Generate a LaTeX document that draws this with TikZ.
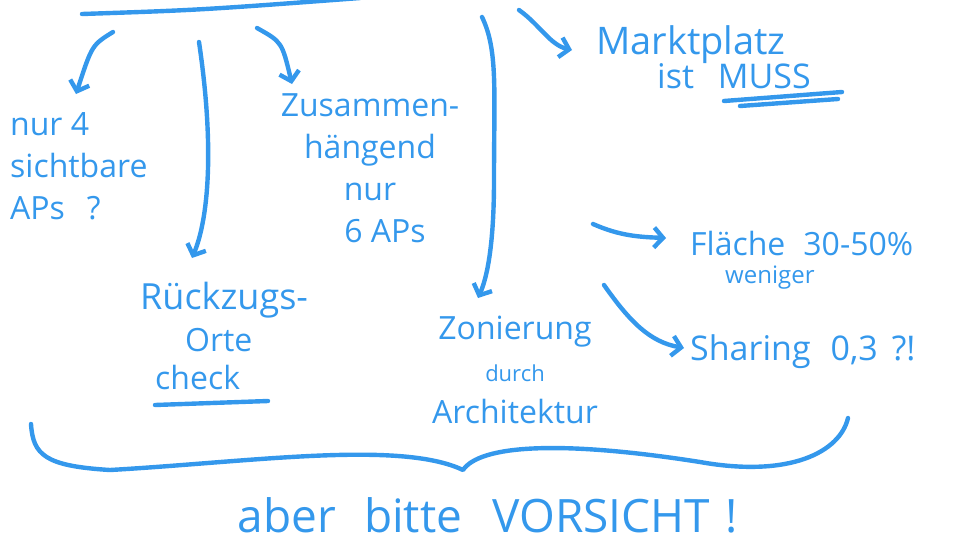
\documentclass[tikz,border=0pt]{standalone}
\usepackage{fontspec}
\setmainfont{Open Sans}
\usetikzlibrary{arrows.meta}
\definecolor{pen}{RGB}{52,152,236}
\begin{document}
\begin{tikzpicture}[x=1pt,y=-1pt,
  stroke/.style={draw=pen,line width=4.4pt,line cap=round,line join=round},
  arr/.style={stroke,-{Straight Barb[length=9pt,width=20pt,line width=4.4pt]}},
  txt/.style={text=pen,inner sep=0pt,font=\fontsize{32}{42}\selectfont}]
\useasboundingbox (0,0) rectangle (978,550);
% top bar
\coordinate (barL) at (82,14);
\coordinate (barR) at (360,-2);
\draw[stroke] (barL) .. controls (200,10) .. (barR);
% text nodes
\node[txt,align=left,anchor=north west] (sicht) at (10,112) {nur 4\\sichtbare\\APs\hspace{22pt}?};
\node[txt,align=center] (zus) at (370,168) {\fontsize{32}{36}\selectfont Zusammen-\\hängend\\nur\\\hspace*{30pt}6 APs};
\node[txt,align=left,anchor=north west] (rueck) at (140,282) {\fontsize{36}{40}\selectfont Rückzugs-\\\hspace*{45pt}Orte\\[-4pt]\hspace*{15pt}check};
\node[txt,align=center] (zon) at (515,370) {Zonierung\\{\fontsize{22}{26}\selectfont durch}\\Architektur};
\node[txt,anchor=base west] (markt) at (596,54) {\fontsize{38}{40}\selectfont Marktplatz};
\node[txt,anchor=base west] (muss) at (657,88) {\fontsize{34}{40}\selectfont ist\hspace{24pt}MUSS};
\node[txt,anchor=base west] (flaeche) at (690,255) {Fläche\hspace{18pt}30-50\%};
\node[txt,anchor=base west] (weniger) at (725,283) {\fontsize{24}{28}\selectfont weniger};
\node[txt,anchor=base west] (sharing) at (690,360) {\fontsize{34}{40}\selectfont Sharing\hspace{20pt}0,3\hspace{14pt}?!};
\node[txt,anchor=base] (vorsicht) at (488,532) {\fontsize{46}{50}\selectfont aber\hspace{28pt}bitte\hspace{30pt}VORSICHT\hspace{16pt}!};
% underlines
\coordinate (chkL) at (155,405); \coordinate (chkR) at (268,401);
\draw[stroke] (chkL) -- (chkR);
\coordinate (m1L) at (724,101); \coordinate (m1R) at (842,92);
\coordinate (m2L) at (740,106); \coordinate (m2R) at (838,99);
\draw[stroke] (m1L) -- (m1R);
\draw[stroke] (m2L) -- (m2R);
% arrows
\coordinate (s1) at (113,32); \coordinate (e1) at (76,94);
\draw[arr] (s1) .. controls (92,45) .. (e1);
\coordinate (s2) at (199,42); \coordinate (e2) at (192,258);
\draw[arr] (s2) .. controls (215,150) and (208,220) .. (e2);
\coordinate (s3) at (257,28); \coordinate (e3) at (292,84);
\draw[arr] (s3) .. controls (282,42) .. (e3);
\coordinate (s4) at (482,17); \coordinate (e4) at (478,298);
\draw[arr] (s4) .. controls (498,50) and (494,90) .. (494,180) .. controls (494,250) and (486,280) .. (e4);
\coordinate (s5) at (519,10); \coordinate (e5) at (572,50);
\draw[arr] (s5) .. controls (540,25) and (550,45) .. (e5);
\coordinate (s6) at (593,224); \coordinate (e6) at (666,238);
\draw[arr] (s6) .. controls (620,236) and (640,237) .. (e6);
\coordinate (s7) at (604,285); \coordinate (e7) at (684,348);
\draw[arr] (s7) .. controls (630,322) and (650,342) .. (e7);
% brace
\coordinate (brL) at (31,424); \coordinate (brM) at (463,470); \coordinate (brR) at (848,418);
\draw[stroke] (brL) .. controls (33,455) and (45,466) .. (110,470)
  .. controls (250,462) and (400,440) .. (brM)
  .. controls (480,445) and (560,440) .. (700,462)
  .. controls (790,478) and (840,452) .. (brR);
\end{tikzpicture}
\end{document}
